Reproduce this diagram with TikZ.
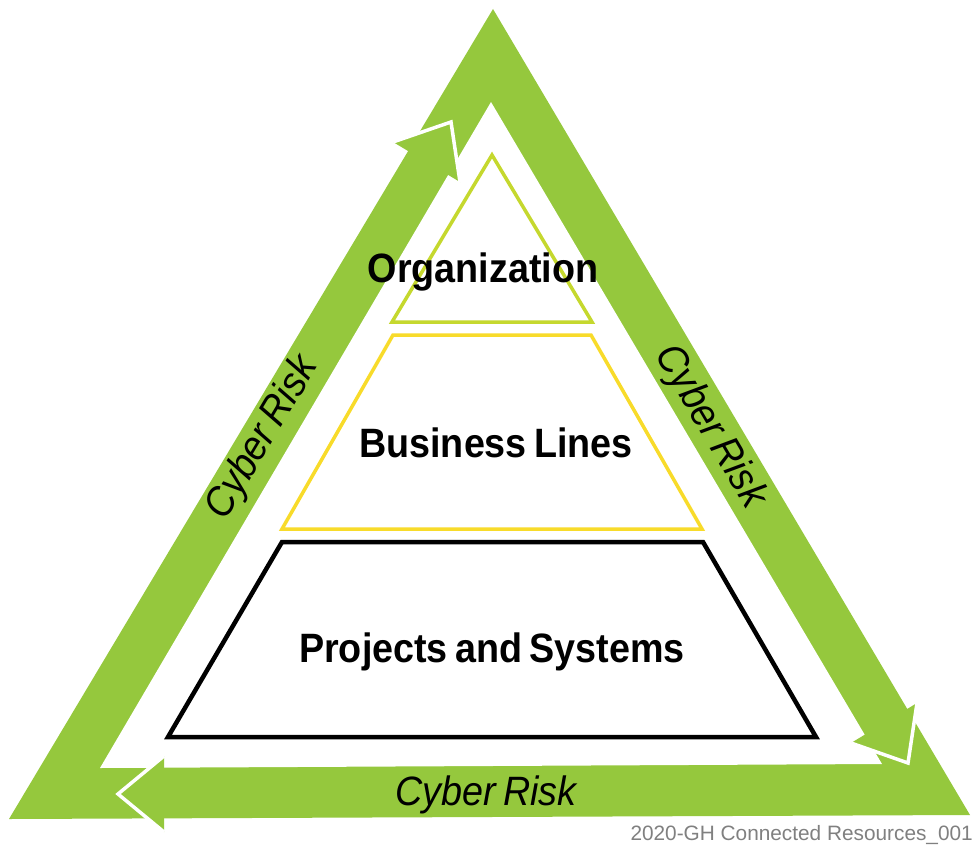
\documentclass[tikz,border=0pt]{standalone}
\usepackage{fontspec}
\setmainfont{Liberation Sans}
\newfontfamily\labfont[FakeStretch=0.92, WordSpace=0.7]{Liberation Sans}
\definecolor{band}{RGB}{149,200,61}
\definecolor{topline}{RGB}{197,216,46}
\definecolor{midline}{RGB}{248,219,42}
\definecolor{credit}{RGB}{128,128,128}
\tikzset{
  headshape/.style={fill=band, draw=white, line width=3.5pt, line join=miter},
  tierlabel/.style={font=\labfont\bfseries\fontsize{41}{41}\selectfont, inner sep=0pt, anchor=base},
  risklabel/.style={font=\labfont\itshape\fontsize{41}{41}\selectfont, inner sep=0pt},
}
\begin{document}
\begin{tikzpicture}[x=1pt,y=-1pt]
\useasboundingbox[fill=white] (0,0) rectangle (979,851);
% outer and inner triangle of the band
\coordinate (OA) at (493,9);
\coordinate (OB) at (9,819);
\coordinate (OC) at (970,815);
\coordinate (IA) at (491,102);
\coordinate (IB) at (100,768);
\coordinate (IC) at (882,764);
\fill[band] (OA) -- (OB) -- (OC) -- cycle;
\fill[white] (IA) -- (IB) -- (IC) -- cycle;
% arrow heads
\coordinate (H1a) at (393,142);
\coordinate (H1t) at (451,122);
\coordinate (H1b) at (460,182);
\coordinate (H2a) at (917,703);
\coordinate (H2t) at (908,763);
\coordinate (H2b) at (851,743);
\coordinate (H3a) at (164,756);
\coordinate (H3t) at (118,794);
\coordinate (H3b) at (164,832);
\draw[headshape] (H1a) -- (H1t) -- (H1b);
\draw[headshape] (H2a) -- (H2t) -- (H2b);
\draw[headshape] (H3a) -- (H3t) -- (H3b);
% pyramid
\coordinate (T1) at (492,155);
\coordinate (T2) at (392,322);
\coordinate (T3) at (592,322);
\coordinate (M1) at (393,335);
\coordinate (M2) at (591,335);
\coordinate (M3) at (702,529);
\coordinate (M4) at (282,529);
\coordinate (B1) at (282,542);
\coordinate (B2) at (703,542);
\coordinate (B3) at (816,737);
\coordinate (B4) at (168,737);
\draw[topline, line width=3.5pt] (T1) -- (T2) -- (T3) -- cycle;
\draw[midline, line width=3.5pt] (M1) -- (M2) -- (M3) -- (M4) -- cycle;
\draw[black, line width=4.5pt] (B1) -- (B2) -- (B3) -- (B4) -- cycle;
% labels
\node[tierlabel] (org) at (483,282) {Organization};
\node[tierlabel] (bus) at (496,457) {Business Lines};
\node[tierlabel] (proj) at (492,662) {Projects and Systems};
\node[risklabel, rotate=59.1] (riskL) at (263,438) {Cyber Risk};
\node[risklabel, rotate=-59.4] (riskR) at (710,427) {Cyber Risk};
\node[risklabel, anchor=base] (riskB) at (486,805) {Cyber Risk};
\node[font=\fontsize{20.8}{20.8}\selectfont, text=credit, inner sep=0pt, anchor=base east] (credit) at (973,840) {2020-GH Connected Resources\_001};
\end{tikzpicture}
\end{document}
